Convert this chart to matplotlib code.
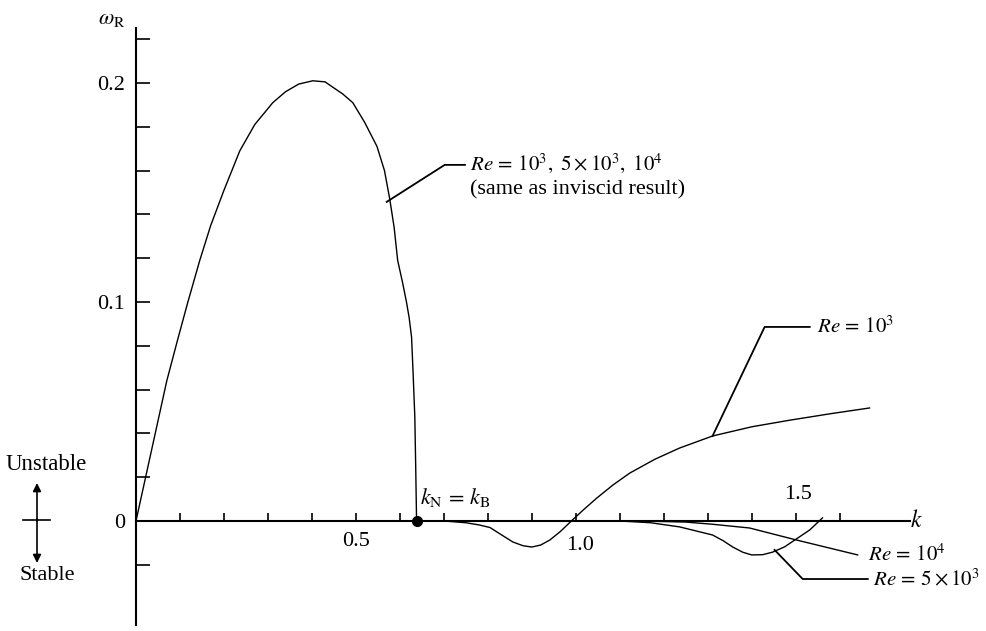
import numpy as np
import matplotlib
matplotlib.use("Agg")
import matplotlib.pyplot as plt

plt.rcParams["font.family"] = ["Liberation Serif", "DejaVu Serif"]
plt.rcParams["mathtext.fontset"] = "stix"

# Growth rate omega_R against wavenumber k
k_all = [0, 0.035, 0.07, 0.095, 0.118, 0.145, 0.17, 0.20, 0.236, 0.27, 0.311,
         0.34, 0.37, 0.402, 0.43, 0.448, 0.47, 0.493, 0.52, 0.548, 0.565, 0.577,
         0.587, 0.595, 0.606, 0.615, 0.621, 0.6266, 0.630, 0.634, 0.636, 0.638]
w_all = [0, 0.032, 0.064, 0.083, 0.100, 0.119, 0.135, 0.151, 0.169, 0.181, 0.191,
         0.196, 0.1995, 0.201, 0.2005, 0.198, 0.195, 0.191, 0.182, 0.171, 0.160, 0.147,
         0.134, 0.119, 0.109, 0.100, 0.093, 0.0840, 0.068, 0.0476, 0.025, 0]

k_re1e3 = [0.638, 0.70, 0.75, 0.78, 0.805, 0.83, 0.857, 0.88, 0.90, 0.92, 0.941,
           0.965, 0.99, 1.018, 1.048, 1.085, 1.123, 1.18, 1.236, 1.311, 1.40, 1.486,
           1.58, 1.668]
w_re1e3 = [0, 0, -0.0008, -0.0018, -0.003, -0.0062, -0.0096, -0.0113, -0.0119,
           -0.0110, -0.0087, -0.0048, 0, 0.0052, 0.0105, 0.0165, 0.0219, 0.0282,
           0.0333, 0.0388, 0.0430, 0.0460, 0.0490, 0.0516]

k_re5e3 = [0.638, 1.10, 1.17, 1.236, 1.311, 1.335, 1.357, 1.38, 1.40, 1.425, 1.448,
           1.475, 1.498, 1.532, 1.561]
w_re5e3 = [0, 0, -0.0008, -0.0027, -0.0064, -0.0090, -0.0119, -0.0143, -0.0155,
           -0.0154, -0.0142, -0.0118, -0.0087, -0.0041, 0.0014]

k_re1e4 = [0.638, 1.15, 1.25, 1.311, 1.395, 1.502, 1.641]
w_re1e4 = [0, 0, -0.0005, -0.0015, -0.0032, -0.0087, -0.0155]

k_neutral = 0.638

x_ticks = [0.1, 0.2, 0.3, 0.4, 0.5, 0.6, 0.7, 0.8, 0.9, 1.0, 1.1, 1.2, 1.3, 1.4, 1.5, 1.6]
y_ticks = [-0.02, 0, 0.02, 0.04, 0.06, 0.08, 0.10, 0.12, 0.14, 0.16, 0.18, 0.20, 0.22]
y_labels = {0: "0", 0.10: "0.1", 0.20: "0.2"}

FS = 16
MFS = 15
LW = 1.0

fig = plt.figure(figsize=(9.86, 6.31), dpi=100)
W, H = 986, 631
ax = fig.add_axes([136 / W, 1 - 625 / H, (910 - 136) / W, (625 - 28) / H])
ax.set_xlim(0, 1.76)
ax.set_ylim(-0.0475, 0.2251)

for s in ("top", "right"):
    ax.spines[s].set_visible(False)
ax.spines["bottom"].set_position(("data", 0))
ax.spines["left"].set_position(("data", 0))
for s in ("bottom", "left"):
    ax.spines[s].set_linewidth(1.5)

ax.set_xticks(x_ticks)
ax.set_xticklabels([])
ax.tick_params(axis="x", direction="in", length=6, width=1.2)

ax.set_yticks(y_ticks)
ax.set_yticklabels([y_labels.get(round(t, 2), "") for t in y_ticks], fontsize=FS)
ax.tick_params(axis="y", direction="in", length=10, width=1.2, pad=8)

# curves
ax.plot(k_all, w_all, color="black", lw=LW)
ax.plot(k_re1e3, w_re1e3, color="black", lw=LW)
ax.plot(k_re5e3, w_re5e3, color="black", lw=LW)
ax.plot(k_re1e4, w_re1e4, color="black", lw=LW)
ax.plot([k_neutral], [0], "o", color="black", ms=7, clip_on=False)

# x tick labels placed by hand around the curves
ax.text(0.5, -0.0096, "0.5", fontsize=FS, ha="center", va="center")
ax.text(1.009, -0.011, "1.0", fontsize=FS, ha="center", va="center")
ax.text(1.505, 0.0119, "1.5", fontsize=FS, ha="center", va="center")

# axis labels
ax.text(-0.0545, 0.2288, r"$\omega_{\mathrm{R}}$", fontsize=MFS + 1, ha="center",
        va="center")
ax.text(1.775, 0, r"$k$", fontsize=MFS + 2, ha="center", va="center")
ax.text(0.645, 0.0105, r"$k_{\mathrm{N}}\,=\,k_{\mathrm{B}}$", fontsize=MFS + 1,
        ha="left", va="center")

# leaders and labels
ax.plot([0.570, 0.702, 0.748], [0.1457, 0.1626, 0.1626], color="black", lw=1.3)
ax.text(0.759, 0.1635, r"$\mathit{Re}\,=\,10^3,\ 5\times10^3,\ 10^4$", fontsize=MFS,
        ha="left", va="center")
ax.text(0.759, 0.1510, "(same as inviscid result)", fontsize=FS, ha="left",
        va="center")

ax.plot([1.311, 1.4295, 1.532], [0.0388, 0.0886, 0.0886], color="black", lw=1.3)
ax.text(1.548, 0.0886, r"$\mathit{Re}\,=\,10^3$", fontsize=MFS, ha="left", va="center")

ax.text(1.664, -0.0155, r"$\mathit{Re}\,=\,10^4$", fontsize=MFS, ha="left", va="center")

ax.plot([1.452, 1.516, 1.664], [-0.0132, -0.0265, -0.0265], color="black", lw=1.3)
ax.text(1.675, -0.0265, r"$\mathit{Re}\,=\,5\times10^3$", fontsize=MFS,
        ha="left", va="center")


# stability indicator on the left
def fp(x, y):
    return (x, H - y)


arrow = dict(arrowstyle="-|>", color="black", lw=1.2, mutation_scale=12,
             shrinkA=0, shrinkB=0)
fig.add_artist(matplotlib.lines.Line2D([23 / W, 50 / W], [1 - 520 / H, 1 - 520 / H],
                                       color="black", lw=1.2))
ax.annotate("", xy=fp(37, 483), xytext=fp(37, 521), xycoords="figure pixels",
            textcoords="figure pixels", arrowprops=arrow)
ax.annotate("", xy=fp(37, 563), xytext=fp(37, 519), xycoords="figure pixels",
            textcoords="figure pixels", arrowprops=arrow)
fig.text(46 / W, 1 - 465 / H, "Unstable", fontsize=FS + 0.5, ha="center", va="center")
fig.text(47 / W, 1 - 575 / H, "Stable", fontsize=FS, ha="center", va="center")

fig.savefig("out.png", dpi=100)
